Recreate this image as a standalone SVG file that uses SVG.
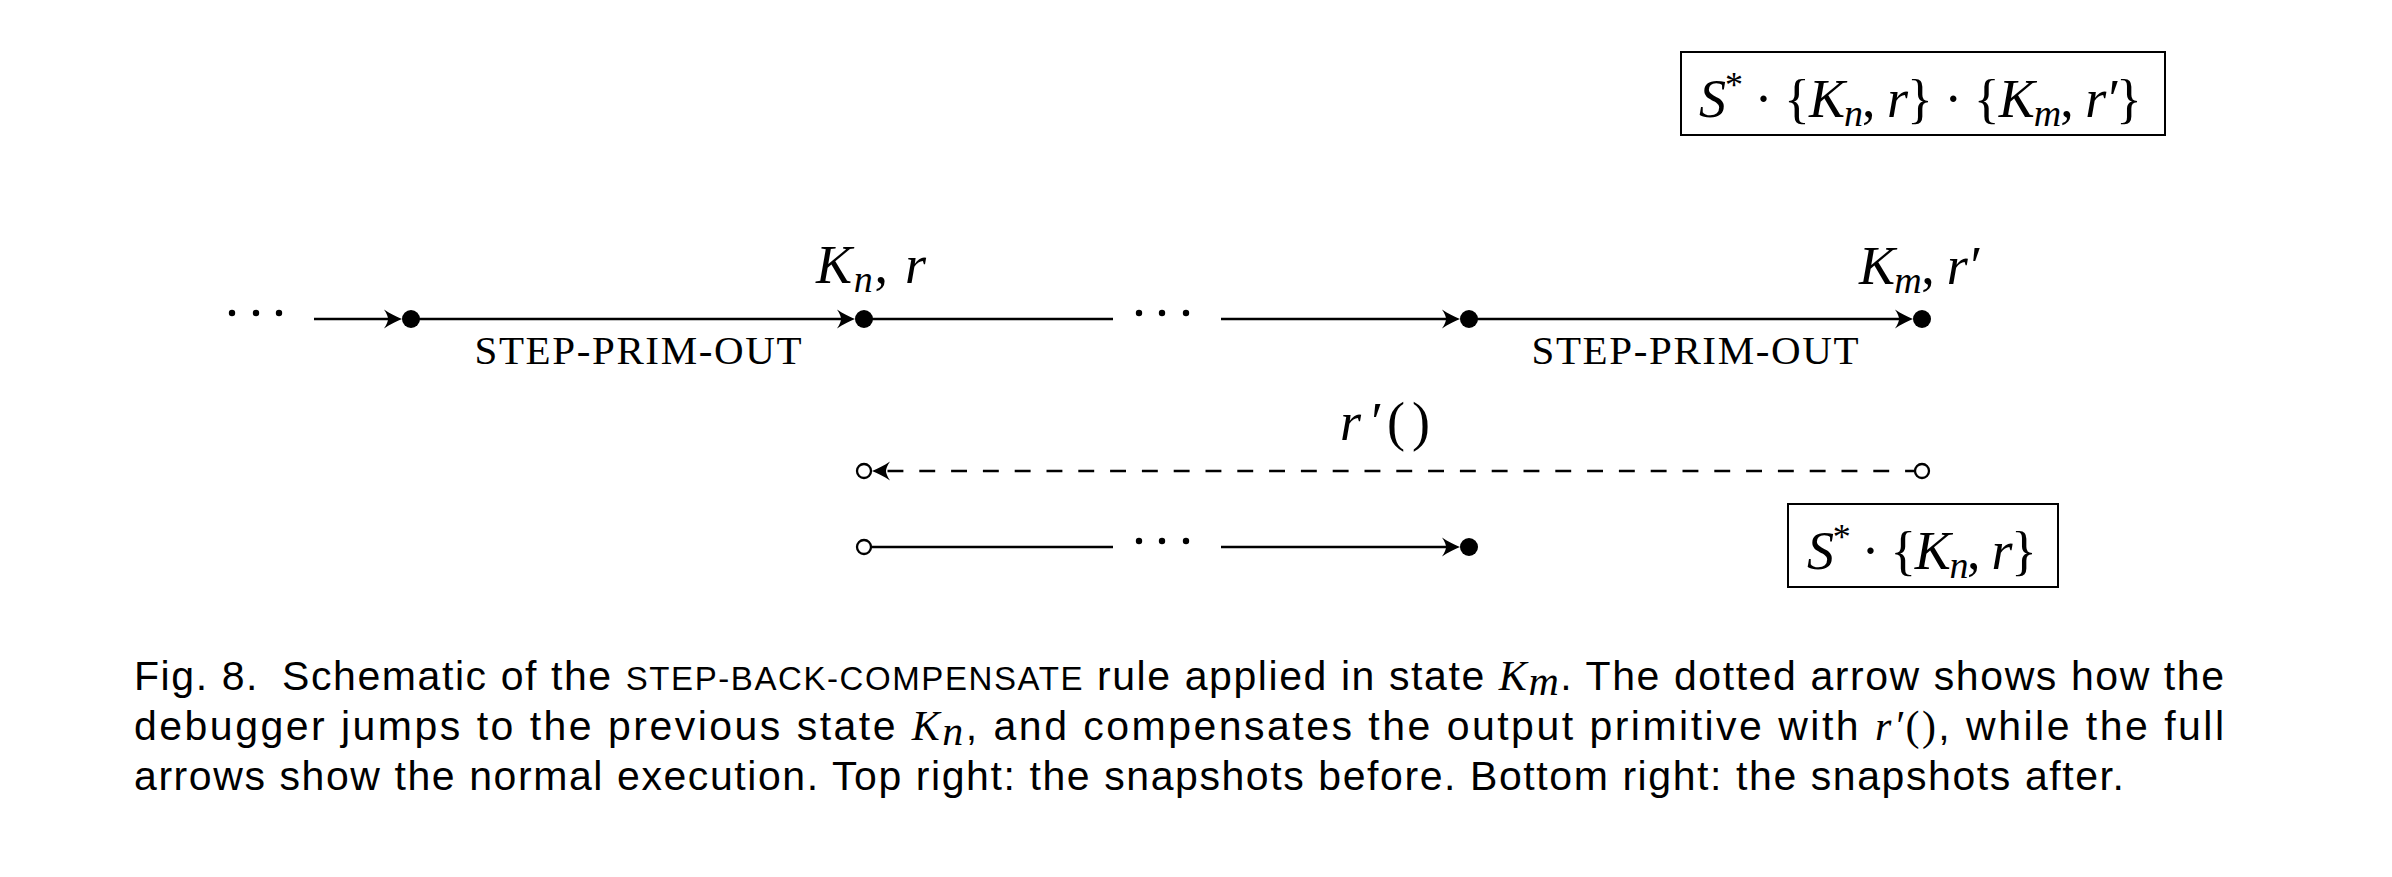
<svg xmlns="http://www.w3.org/2000/svg" width="2392" height="877" viewBox="0 0 2392 877">
<style>
.edge{stroke:#000;stroke-width:2.3;fill:none}
.dash{stroke-dasharray:15.9 15.9}
.dot{fill:#000}
.open{fill:#fff;stroke:#000;stroke-width:2.3}
.math{font-family:"Liberation Serif","DejaVu Serif",serif;font-size:54px;fill:#000}
.it{font-style:italic}
.sc{font-family:"Liberation Serif","DejaVu Serif",serif;font-size:41px;fill:#000}
.cap{font-family:"Liberation Sans","DejaVu Sans",sans-serif;font-size:41px;fill:#000}
.capm{font-family:"Liberation Serif","DejaVu Serif",serif;font-style:italic;font-size:42px}
.box{fill:none;stroke:#000;stroke-width:2}
</style>
<defs>
<marker id="ah" viewBox="-20 -11 22 22" refX="-4" refY="0" markerWidth="22" markerHeight="22" markerUnits="userSpaceOnUse" orient="auto">
<path d="M0,0 C-5,-2 -12,-5.5 -18,-9.5 C-15,-5 -14,-2 -14,0 C-14,2 -15,5 -18,9.5 C-12,5.5 -5,2 0,0 Z" fill="#000"/>
</marker>
</defs>
<rect width="2392" height="877" fill="#fff"/>

<g id="connectors">
<path class="edge" d="M314,319 H398" marker-end="url(#ah)"/>
<path class="edge" d="M411,319 H851" marker-end="url(#ah)"/>
<path class="edge" d="M864,319 H1113"/>
<path class="edge" d="M1221,319 H1456" marker-end="url(#ah)"/>
<path class="edge" d="M1469,319 H1909" marker-end="url(#ah)"/>
<path class="edge dash" d="M1921,471 H876" marker-end="url(#ah)"/>
<path class="edge" d="M871,547 H1113"/>
<path class="edge" d="M1221,547 H1456" marker-end="url(#ah)"/>
</g>

<g id="ellipsis-left">
<circle class="dot" cx="232" cy="313" r="3.2"/>
<circle class="dot" cx="256" cy="313" r="3.2"/>
<circle class="dot" cx="279" cy="313" r="3.2"/>
</g>
<g id="ellipsis-top">
<circle class="dot" cx="1139" cy="313" r="3.2"/>
<circle class="dot" cx="1162" cy="313" r="3.2"/>
<circle class="dot" cx="1186" cy="313" r="3.2"/>
</g>
<g id="ellipsis-bottom">
<circle class="dot" cx="1139" cy="541" r="3.2"/>
<circle class="dot" cx="1162" cy="541" r="3.2"/>
<circle class="dot" cx="1186" cy="541" r="3.2"/>
</g>

<g id="node-a"><circle class="dot" cx="411" cy="319" r="9"/></g>
<g id="node-kn">
<circle class="dot" cx="864" cy="319" r="9"/>
<text class="math" x="816" y="283" textLength="110" lengthAdjust="spacing"><tspan class="it">K</tspan><tspan class="it" font-size="38" dy="9">n</tspan><tspan dy="-9">, </tspan><tspan class="it">r</tspan></text>
</g>
<g id="node-b"><circle class="dot" cx="1469" cy="319" r="9"/></g>
<g id="node-km">
<circle class="dot" cx="1922" cy="319" r="9"/>
<text class="math" x="1859" y="284" textLength="120" lengthAdjust="spacing"><tspan class="it">K</tspan><tspan class="it" font-size="38" dy="9">m</tspan><tspan dy="-9">, </tspan><tspan class="it">r′</tspan></text>
</g>
<g id="label-step1"><text class="sc" x="638" y="364" text-anchor="middle" textLength="327" lengthAdjust="spacing">STEP-PRIM-OUT</text></g>
<g id="label-step2"><text class="sc" x="1695" y="364" text-anchor="middle" textLength="327" lengthAdjust="spacing">STEP-PRIM-OUT</text></g>

<g id="node-dash-end"><circle class="open" cx="864" cy="471" r="7"/></g>
<g id="node-dash-start"><circle class="open" cx="1922" cy="471" r="7"/></g>
<g id="label-comp"><text class="math" x="1340" y="440" textLength="90" lengthAdjust="spacing"><tspan class="it">r′</tspan>()</text></g>

<g id="node-bottom-start"><circle class="open" cx="864" cy="547" r="7"/></g>
<g id="node-bottom-end"><circle class="dot" cx="1469" cy="547" r="9"/></g>

<g id="box-before">
<rect class="box" x="1681" y="52" width="484" height="83"/>
<text class="math" x="1699" y="117" textLength="443" lengthAdjust="spacing"><tspan class="it">S</tspan><tspan font-size="36" dy="-20">*</tspan><tspan dy="20"> · {</tspan><tspan class="it">K</tspan><tspan class="it" font-size="38" dy="9">n</tspan><tspan dy="-9">, </tspan><tspan class="it">r</tspan>} · {<tspan class="it">K</tspan><tspan class="it" font-size="38" dy="9">m</tspan><tspan dy="-9">, </tspan><tspan class="it">r′</tspan>}</text>
</g>
<g id="box-after">
<rect class="box" x="1788" y="504" width="270" height="83"/>
<text class="math" x="1807" y="569" textLength="230" lengthAdjust="spacing"><tspan class="it">S</tspan><tspan font-size="36" dy="-20">*</tspan><tspan dy="20"> · {</tspan><tspan class="it">K</tspan><tspan class="it" font-size="38" dy="9">n</tspan><tspan dy="-9">, </tspan><tspan class="it">r</tspan>}</text>
</g>

<g id="caption">
<text class="cap" x="134" y="690" textLength="2090" lengthAdjust="spacing">Fig. 8. <tspan dx="10">Schematic of the </tspan><tspan font-size="33">STEP-BACK-COMPENSATE</tspan> rule applied in state <tspan class="capm">K</tspan><tspan class="capm" font-size="28" dy="5">m</tspan><tspan dy="-5">. The dotted arrow shows how the</tspan></text>
<text class="cap" x="134" y="740" textLength="2090" lengthAdjust="spacing">debugger jumps to the previous state <tspan class="capm">K</tspan><tspan class="capm" font-size="28" dy="5">n</tspan><tspan dy="-5">, and compensates the output primitive with </tspan><tspan class="capm">r′</tspan><tspan font-family="Liberation Serif, serif" font-size="42">()</tspan>, while the full</text>
<text class="cap" x="134" y="790" textLength="1990" lengthAdjust="spacing">arrows show the normal execution. Top right: the snapshots before. Bottom right: the snapshots after.</text>
</g>
</svg>
